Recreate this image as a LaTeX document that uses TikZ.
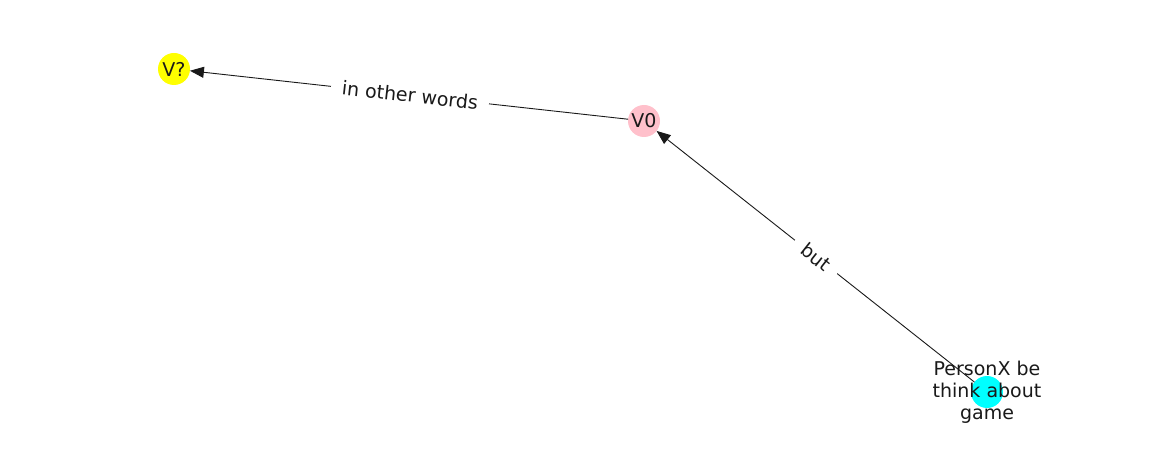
\documentclass[tikz,border=0pt]{standalone}
\usepackage{fontspec}
\setmainfont{DejaVu Sans}
\usetikzlibrary{arrows.meta}
\definecolor{nyellow}{RGB}{255,255,0}
\definecolor{npink}{RGB}{255,192,203}
\definecolor{ncyan}{RGB}{0,255,255}
\begin{document}
\begin{tikzpicture}[x=1pt,y=-1pt,
  vnode/.style={circle,minimum size=32pt,inner sep=0pt,outer sep=0pt},
  lbl/.style={font=\fontsize{19}{22}\selectfont,text=black!90},
  elabel/.style={lbl,fill=white,inner xsep=11pt,inner ysep=5pt},
  edge/.style={draw=black!90,line width=0.9pt,-{Triangle[length=14pt,width=11pt]}}]
\useasboundingbox (0,0) rectangle (1162,462);
\node[vnode,fill=nyellow] (vq) at (174,69) {};
\node[vnode,fill=npink] (v0) at (644,121) {};
\node[vnode,fill=ncyan] (px) at (987,392) {};
\draw[edge] (v0) -- (vq);
\draw[edge] (px) -- (v0);
\node[elabel,rotate=-6.3] (l1) at (410,95) {in other words};
\node[elabel,rotate=-38.3] (l2) at (816,257) {but};
\node[lbl] (tq) at (vq) {V?};
\node[lbl] (t0) at (v0) {V0};
\node[lbl,align=center] (tp) at (987,392) {PersonX be\\think about\\game};
\end{tikzpicture}
\end{document}
